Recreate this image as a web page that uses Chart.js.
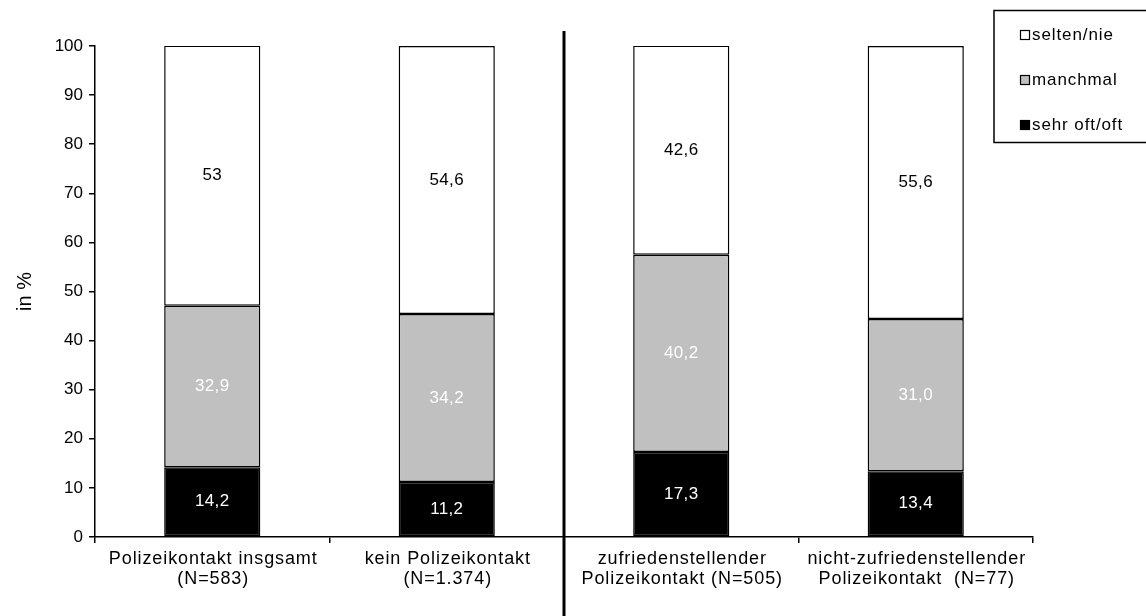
<!DOCTYPE html>
<html>
<head>
<meta charset="utf-8">
<script src="https://cdn.jsdelivr.net/npm/chart.js@4.4.1/dist/chart.umd.min.js"></script>
<style>
  html, body { margin: 0; padding: 0; background: #fff; }
  #wrap { width: 1146px; height: 616px; }
</style>
</head>
<body>
<div id="wrap"><canvas id="chart"></canvas></div>
<script>
// Kategorien und Werte (in %)
const kategorien = [
    ['Polizeikontakt insgsamt', '(N=583)'],
    ['kein Polizeikontakt', '(N=1.374)'],
    ['zufriedenstellender', 'Polizeikontakt (N=505)'],
    ['nicht-zufriedenstellender', 'Polizeikontakt  (N=77)']
];
const sehrOft = [14.2, 11.2, 17.3, 13.4];
const manchmal = [32.9, 34.2, 40.2, 31.0];
const seltenNie = [53, 54.6, 42.6, 55.6];
const sehrOftText = ['14,2', '11,2', '17,3', '13,4'];
const manchmalText = ['32,9', '34,2', '40,2', '31,0'];
const seltenNieText = ['53', '54,6', '42,6', '55,6'];
const yTicks = [0, 10, 20, 30, 40, 50, 60, 70, 80, 90, 100];

const schrift = 'Liberation Sans, Arial, sans-serif';

// Werte in die Balken schreiben
const wertePlugin = {
    id: 'werte',
    afterDatasetsDraw(chart) {
        const ctx = chart.ctx;
        ctx.save();
        ctx.font = '17px ' + schrift;
        ctx.letterSpacing = '0.3px';
        ctx.textAlign = 'center';
        ctx.textBaseline = 'middle';
        chart.data.datasets.forEach(function(ds, i) {
            const meta = chart.getDatasetMeta(i);
            meta.data.forEach(function(bar, j) {
                const mitte = (bar.y + bar.base) / 2;
                ctx.fillStyle = ds.textFarbe;
                ctx.fillText(ds.texte[j], bar.x, mitte);
            });
        });
        ctx.restore();
    }
};

// Beschriftung der Kategorien (leicht gesperrt wie im Original)
const kategorienPlugin = {
    id: 'kategorien',
    afterDraw(chart) {
        const x = chart.scales.x;
        const ctx = chart.ctx;
        ctx.save();
        ctx.font = '18px ' + schrift;
        ctx.letterSpacing = '0.9px';
        ctx.fillStyle = '#000';
        ctx.textAlign = 'center';
        ctx.textBaseline = 'middle';
        kategorien.forEach(function(zeilen, i) {
            const px = x.getPixelForValue(i);
            zeilen.forEach(function(t, k) {
                ctx.fillText(t, px + 1, 559 + k * 20);
            });
        });
        ctx.restore();
    }
};

// Trennlinie zwischen den Gruppen
const trennPlugin = {
    id: 'trenn',
    afterDraw(chart) {
        const x = chart.scales.x;
        const px = (x.getPixelForValue(1) + x.getPixelForValue(2)) / 2;
        const ctx = chart.ctx;
        ctx.save();
        ctx.strokeStyle = '#000';
        ctx.lineWidth = 3;
        ctx.beginPath();
        ctx.moveTo(px, 31);
        ctx.lineTo(px, 616);
        ctx.stroke();
        ctx.restore();
    }
};

// Legende oben rechts im Kasten
const legendePlugin = {
    id: 'legende',
    afterDraw(chart) {
        const ctx = chart.ctx;
        ctx.save();
        ctx.strokeStyle = '#000';
        ctx.lineWidth = 1.5;
        ctx.strokeRect(994, 10.5, 170, 132);
        const eintraege = [chart.data.datasets[2], chart.data.datasets[1], chart.data.datasets[0]];
        ctx.font = '17px ' + schrift;
        ctx.letterSpacing = '0.9px';
        ctx.textBaseline = 'middle';
        ctx.textAlign = 'left';
        eintraege.forEach(function(ds, i) {
            const y = 35 + i * 45;
            ctx.fillStyle = ds.backgroundColor;
            ctx.fillRect(1020, y - 5, 10, 10);
            ctx.lineWidth = 1.2;
            ctx.strokeRect(1020.5, y - 4.5, 9, 9);
            ctx.fillStyle = '#000';
            ctx.fillText(ds.label, 1032, y);
        });
        ctx.restore();
    }
};

const ctx = document.getElementById('chart').getContext('2d');
new Chart(ctx, {
    type: 'bar',
    data: {
        labels: kategorien,
        datasets: [
            { label: 'sehr oft/oft', data: sehrOft, texte: sehrOftText, textFarbe: '#fff', backgroundColor: '#000000' },
            { label: 'manchmal', data: manchmal, texte: manchmalText, textFarbe: '#fff', backgroundColor: '#c0c0c0' },
            { label: 'selten/nie', data: seltenNie, texte: seltenNieText, textFarbe: '#000', backgroundColor: '#ffffff' }
        ].map(function(ds) {
            return Object.assign(ds, {
                borderColor: '#000',
                borderWidth: 1.5,
                borderSkipped: false,
                barPercentage: 0.41,
                categoryPercentage: 1.0
            });
        })
    },
    options: {
        responsive: true,
        maintainAspectRatio: false,
        animation: false,
        layout: { padding: { top: 46, right: 113, left: 0, bottom: 0 } },
        plugins: {
            legend: { display: false },
            tooltip: { enabled: false }
        },
        scales: {
            x: {
                stacked: true,
                grid: { display: true, offset: true, drawOnChartArea: false, color: '#000', lineWidth: 1.5, tickLength: 6 },
                border: { color: '#000', width: 1.5 },
                ticks: { display: false },
                afterFit: function(s) { s.height = 79; }
            },
            y: {
                stacked: true,
                min: 0,
                max: 100,
                afterBuildTicks: function(s) { s.ticks = yTicks.map(function(v) { return { value: v }; }); },
                grid: { display: true, drawOnChartArea: false, color: '#000', lineWidth: 1.5, tickLength: 6 },
                border: { color: '#000', width: 1.5 },
                ticks: { color: '#000', font: { family: schrift, size: 17 }, padding: 6 },
                title: { display: true, text: 'in %', color: '#000', font: { family: schrift, size: 20 }, padding: { top: 13 } },
                afterFit: function(s) { s.width = 95; }
            }
        }
    },
    plugins: [wertePlugin, kategorienPlugin, trennPlugin, legendePlugin]
});
</script>
</body>
</html>
